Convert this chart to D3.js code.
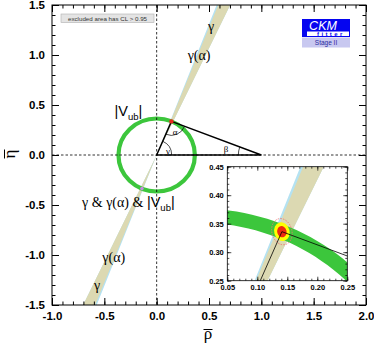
<!DOCTYPE html>
<html>
<head>
<meta charset="utf-8">
<script src="https://cdn.jsdelivr.net/npm/d3@7"></script>
<style>
  body { margin: 0; background: #fff; }
  svg { display: block; }
</style>
</head>
<body>
<svg id="chart" width="374" height="349"></svg>
<script>
// tick labels
var xTicks = [-1.0, -0.5, 0.0, 0.5, 1.0, 1.5, 2.0];
var yTicks = [-1.5, -1.0, -0.5, 0.0, 0.5, 1.0, 1.5];
var insetXTicks = [0.05, 0.10, 0.15, 0.20, 0.25];
var insetYTicks = [0.25, 0.30, 0.35, 0.40, 0.45];

// fit results
var apex = [0.141, 0.336];          // rho-bar, eta-bar
var gammaBand = [64.9, 68.6];       // degrees
var gammaAlphaBand = [64.9, 69.1];  // degrees
var vubBand = [0.352, 0.377];       // radius
var vubRadius = 0.365;
// confidence ellipses (semi axes in rho, eta)
var clRho = [0.0167, 0.0128, 0.0078];
var clEta = [0.0233, 0.0167, 0.0099];
var clFill = ["none", "#ffff00", "#ee2a10"];

var svg = d3.select("#chart");

var x = d3.scaleLinear().domain([-1, 2]).range([52, 366]);
var y = d3.scaleLinear().domain([-1.5, 1.5]).range([305, 5]);

var defs = svg.append("defs");
defs.append("clipPath").attr("id", "mainclip").append("rect")
    .attr("x", 52).attr("y", 5).attr("width", 314).attr("height", 300);

var plot = svg.append("g").attr("clip-path", "url(#mainclip)");

// wedge through origin, both directions
function wedge(sx, sy, a) {
    var r = 6, a1 = a[0] * Math.PI / 180, a2 = a[1] * Math.PI / 180;
    var pts = [[0, 0], [r * Math.cos(a1), r * Math.sin(a1)], [r * Math.cos(a2), r * Math.sin(a2)], [0, 0],
               [-r * Math.cos(a1), -r * Math.sin(a1)], [-r * Math.cos(a2), -r * Math.sin(a2)]];
    return pts.map(function(p) { return [sx(p[0]), sy(p[1])]; });
}

plot.append("polygon").attr("points", wedge(x, y, gammaAlphaBand).join(" ")).attr("fill", "#b4e2f2");
plot.append("polygon").attr("points", wedge(x, y, gammaBand).join(" ")).attr("fill", "#dcd9b2");

// |Vub| circle
plot.append("ellipse")
    .attr("cx", x(0)).attr("cy", y(0))
    .attr("rx", x(vubRadius) - x(0)).attr("ry", y(0) - y(vubRadius))
    .attr("fill", "none").attr("stroke", "#3cc63c").attr("stroke-width", 4.2);

// mirror solution dot
plot.append("circle").attr("cx", x(-apex[0])).attr("cy", y(-apex[1])).attr("r", 1.8).attr("fill", "#c58be0");

// dashed axes
plot.append("line").attr("x1", x(0)).attr("x2", x(0)).attr("y1", y(1.5)).attr("y2", y(-1.5))
    .attr("stroke", "#000").attr("stroke-width", 0.8).attr("stroke-dasharray", "2.5,2");
plot.append("line").attr("x1", x(-1)).attr("x2", x(2)).attr("y1", y(0)).attr("y2", y(0))
    .attr("stroke", "#000").attr("stroke-width", 0.8).attr("stroke-dasharray", "2.5,2");

// unitarity triangle
plot.append("polygon")
    .attr("points", [[x(0), y(0)], [x(apex[0]), y(apex[1])], [x(1), y(0)]].join(" "))
    .attr("fill", "none").attr("stroke", "#000").attr("stroke-width", 1.5);

// angle arcs (screen angles, always the short way)
function arc(cx, cy, r, a0, a1) {
    var d = a1 - a0;
    while (d > Math.PI) d -= 2 * Math.PI;
    while (d < -Math.PI) d += 2 * Math.PI;
    var p = d3.path();
    p.arc(cx, cy, r, a0, a0 + d, d < 0);
    return p.toString();
}
var ax = x(apex[0]), ay = y(apex[1]);
var toOrigin = Math.atan2(y(0) - ay, x(0) - ax);
var toOne = Math.atan2(y(0) - ay, x(1) - ax);
plot.append("path").attr("d", arc(x(0), y(0), 15, 0, Math.atan2(ay - y(0), ax - x(0))))
    .attr("fill", "none").attr("stroke", "#000").attr("stroke-width", 0.7);
plot.append("path").attr("d", arc(ax, ay, 14, toOne, toOrigin))
    .attr("fill", "none").attr("stroke", "#000").attr("stroke-width", 0.7);
plot.append("path").attr("d", arc(x(1), y(0), 23, Math.PI, Math.atan2(ay - y(0), ax - x(1))))
    .attr("fill", "none").attr("stroke", "#000").attr("stroke-width", 0.7);

plot.append("circle").attr("cx", ax).attr("cy", ay).attr("r", 2.2).attr("fill", "#e8281e");

var serif = "'Liberation Serif', 'DejaVu Serif', serif";
var sans = "'Liberation Sans', Arial, sans-serif";

function small(t, px, py) {
    svg.append("text").attr("x", px).attr("y", py).attr("text-anchor", "middle")
        .attr("font-family", serif).attr("font-size", 9).text(t);
}
small("\u03b1", 175, 135);
small("\u03b3", 168, 153.5);
small("\u03b2", 226, 152);

// band labels
function label(t, rho, eta) {
    svg.append("text").attr("x", x(rho)).attr("y", y(eta) + 4.5).attr("text-anchor", "middle")
        .attr("font-family", serif).attr("font-size", 14).text(t);
}
label("\u03b3", 0.52, 1.29);
label("\u03b3(\u03b1)", 0.405, 1.0);
label("\u03b3(\u03b1)", -0.41, -1.02);
label("\u03b3", -0.57, -1.30);

function vub(g) {
    g.append("tspan").text("|V");
    g.append("tspan").attr("font-size", 9.5).attr("dy", 3.5).text("ub");
    g.append("tspan").attr("dy", -3.5).text("|");
}
var v1 = svg.append("text").attr("x", x(-0.27)).attr("y", y(0.44) + 5).attr("text-anchor", "middle")
    .attr("font-family", sans).attr("font-size", 14.5);
vub(v1);

var v2 = svg.append("text").attr("x", x(-0.27)).attr("y", y(-0.47) + 5).attr("text-anchor", "middle")
    .attr("font-size", 14);
v2.append("tspan").attr("font-family", serif).text("\u03b3 & \u03b3(\u03b1) & ");
v2.append("tspan").attr("font-family", sans).attr("font-size", 14.5).text("|V");
v2.append("tspan").attr("font-family", sans).attr("font-size", 9.5).attr("dy", 3.5).text("ub");
v2.append("tspan").attr("font-family", sans).attr("font-size", 14.5).attr("dy", -3.5).text("|");

// axes: major ticks + labels, minor ticks, on all four sides
var fmt = function(d) { return d.toFixed(1); };
var xMinor = d3.range(-10, 21).map(function(i) { return i / 10; });
var yMinor = d3.range(-15, 16).map(function(i) { return i / 10; });

function ticks(sel, axis) {
    sel.call(axis);
    sel.select(".domain").remove();
    sel.selectAll("line").attr("stroke", "#000").attr("stroke-width", 1);
    sel.selectAll("text").attr("font-family", sans).attr("font-weight", "bold").attr("font-size", 11.5).attr("fill", "#000");
}

ticks(svg.append("g").attr("transform", "translate(0,305)"),
    d3.axisBottom(x).tickValues(xTicks).tickSize(-7).tickPadding(7).tickFormat(fmt));
ticks(svg.append("g").attr("transform", "translate(0,305)"),
    d3.axisBottom(x).tickValues(xMinor).tickSize(-3.5).tickFormat(""));
ticks(svg.append("g").attr("transform", "translate(0,5)"),
    d3.axisTop(x).tickValues(xTicks).tickSize(-7).tickFormat(""));
ticks(svg.append("g").attr("transform", "translate(0,5)"),
    d3.axisTop(x).tickValues(xMinor).tickSize(-3.5).tickFormat(""));
ticks(svg.append("g").attr("transform", "translate(52,0)"),
    d3.axisLeft(y).tickValues(yTicks).tickSize(-7).tickPadding(7).tickFormat(fmt));
ticks(svg.append("g").attr("transform", "translate(52,0)"),
    d3.axisLeft(y).tickValues(yMinor).tickSize(-3.5).tickFormat(""));
ticks(svg.append("g").attr("transform", "translate(366,0)"),
    d3.axisRight(y).tickValues(yTicks).tickSize(-7).tickFormat(""));
ticks(svg.append("g").attr("transform", "translate(366,0)"),
    d3.axisRight(y).tickValues(yMinor).tickSize(-3.5).tickFormat(""));

svg.append("rect").attr("x", 52).attr("y", 5).attr("width", 314).attr("height", 300)
    .attr("fill", "none").attr("stroke", "#000").attr("stroke-width", 1);

// axis titles with overline
svg.append("text").attr("x", 208).attr("y", 339).attr("text-anchor", "middle")
    .attr("font-family", serif).attr("font-size", 17).text("\u03c1");
svg.append("line").attr("x1", 203.5).attr("x2", 212.5).attr("y1", 329.5).attr("y2", 329.5)
    .attr("stroke", "#000").attr("stroke-width", 1);
var eta = svg.append("g").attr("transform", "translate(15,154) rotate(-90)");
eta.append("text").attr("x", 0).attr("y", 0).attr("text-anchor", "middle")
    .attr("font-family", serif).attr("font-size", 17).text("\u03b7");
eta.append("line").attr("x1", -4.5).attr("x2", 4.5).attr("y1", -10.5).attr("y2", -10.5)
    .attr("stroke", "#000").attr("stroke-width", 1);

// CL note
svg.append("rect").attr("x", 61).attr("y", 14).attr("width", 93).attr("height", 8.5)
    .attr("fill", "#e4e4e4").attr("stroke", "#b0b0b0").attr("stroke-width", 0.6);
svg.append("text").attr("x", 107.5).attr("y", 20.6).attr("text-anchor", "middle")
    .attr("font-family", sans).attr("font-size", 6.2).attr("fill", "#333").text("excluded area has CL > 0.95");

// CKMfitter logo
var logo = svg.append("g");
logo.append("rect").attr("x", 302).attr("y", 19).attr("width", 48).attr("height", 12).attr("fill", "#0505f0");
logo.append("text").attr("x", 323).attr("y", 29.5).attr("text-anchor", "middle").attr("font-family", sans)
    .attr("font-style", "italic").attr("font-size", 12.5).attr("fill", "#fff").text("CKM");
logo.append("rect").attr("x", 302.5).attr("y", 31).attr("width", 47).attr("height", 5.5)
    .attr("fill", "#fff").attr("stroke", "#0505f0").attr("stroke-width", 1);
logo.append("rect").attr("x", 302).attr("y", 31).attr("width", 5).attr("height", 6).attr("fill", "#0505f0");
logo.append("text").attr("x", 317).attr("y", 36.3).attr("font-family", sans).attr("font-weight", "bold")
    .attr("font-size", 6).attr("letter-spacing", 2.4).attr("fill", "#0505f0").text("fitter");
logo.append("rect").attr("x", 302).attr("y", 37.5).attr("width", 48).attr("height", 10).attr("fill", "#c8c8f0");
logo.append("text").attr("x", 326).attr("y", 45).attr("text-anchor", "middle").attr("font-family", sans)
    .attr("font-size", 6.5).attr("fill", "#2a2aa0").text("Stage II");

// ---- inset ----
var ix = d3.scaleLinear().domain([0.05, 0.25]).range([227.3, 347.3]);
var iy = d3.scaleLinear().domain([0.25, 0.45]).range([280.7, 166.7]);

defs.append("clipPath").attr("id", "insetclip").append("rect")
    .attr("x", 227.3).attr("y", 166.7).attr("width", 120).attr("height", 114);

svg.append("rect").attr("x", 227.3).attr("y", 166.7).attr("width", 120).attr("height", 114).attr("fill", "#fff");
var inset = svg.append("g").attr("clip-path", "url(#insetclip)");

inset.append("polygon").attr("points", wedge(ix, iy, gammaAlphaBand).join(" ")).attr("fill", "#b4e2f2");
inset.append("polygon").attr("points", wedge(ix, iy, gammaBand).join(" ")).attr("fill", "#dcd9b2");

// |Vub| annulus
var angles = d3.range(0, 181, 2).map(function(d) { return d * Math.PI / 180; });
var ring = angles.map(function(a) { return [ix(vubBand[1] * Math.cos(a)), iy(vubBand[1] * Math.sin(a))]; })
    .concat(angles.slice().reverse().map(function(a) { return [ix(vubBand[0] * Math.cos(a)), iy(vubBand[0] * Math.sin(a))]; }));
inset.append("path").attr("d", d3.line()(ring) + "Z").attr("fill", "#3cc63c");

// CL ellipses
clRho.forEach(function(r, i) {
    inset.append("ellipse")
        .attr("cx", ix(apex[0])).attr("cy", iy(apex[1]))
        .attr("rx", ix(apex[0] + r) - ix(apex[0])).attr("ry", iy(apex[1]) - iy(apex[1] + clEta[i]))
        .attr("transform", "rotate(-15," + ix(apex[0]) + "," + iy(apex[1]) + ")")
        .attr("fill", clFill[i])
        .attr("stroke", i == 0 ? "#f07070" : "none").attr("stroke-width", 0.8)
        .attr("stroke-dasharray", i == 0 ? "1.5,1.2" : null);
});

inset.append("polyline")
    .attr("points", [[ix(0), iy(0)], [ix(apex[0]), iy(apex[1])], [ix(1), iy(0)]].join(" "))
    .attr("fill", "none").attr("stroke", "#000").attr("stroke-width", 0.8);

function iticks(sel, axis, labels) {
    sel.call(axis);
    sel.select(".domain").remove();
    sel.selectAll("line").attr("stroke", "#000").attr("stroke-width", 0.7);
    sel.selectAll("text").attr("font-family", sans).attr("font-weight", "bold").attr("font-size", 7.5).attr("fill", "#000");
}
var fmt2 = function(d) { return d.toFixed(2); };
var ixMinor = d3.range(5, 26).map(function(i) { return i / 100; });
var iyMinor = d3.range(25, 46).map(function(i) { return i / 100; });

iticks(svg.append("g").attr("transform", "translate(0,280.7)"),
    d3.axisBottom(ix).tickValues(insetXTicks).tickSize(-4).tickPadding(3.5).tickFormat(fmt2));
iticks(svg.append("g").attr("transform", "translate(0,280.7)"),
    d3.axisBottom(ix).tickValues(ixMinor).tickSize(-2).tickFormat(""));
iticks(svg.append("g").attr("transform", "translate(0,166.7)"),
    d3.axisTop(ix).tickValues(insetXTicks).tickSize(-4).tickFormat(""));
iticks(svg.append("g").attr("transform", "translate(0,166.7)"),
    d3.axisTop(ix).tickValues(ixMinor).tickSize(-2).tickFormat(""));
iticks(svg.append("g").attr("transform", "translate(227.3,0)"),
    d3.axisLeft(iy).tickValues(insetYTicks).tickSize(-4).tickPadding(3.5).tickFormat(fmt2));
iticks(svg.append("g").attr("transform", "translate(227.3,0)"),
    d3.axisLeft(iy).tickValues(iyMinor).tickSize(-2).tickFormat(""));
iticks(svg.append("g").attr("transform", "translate(347.3,0)"),
    d3.axisRight(iy).tickValues(insetYTicks).tickSize(-4).tickFormat(""));
iticks(svg.append("g").attr("transform", "translate(347.3,0)"),
    d3.axisRight(iy).tickValues(iyMinor).tickSize(-2).tickFormat(""));

svg.append("rect").attr("x", 227.3).attr("y", 166.7).attr("width", 120).attr("height", 114)
    .attr("fill", "none").attr("stroke", "#000").attr("stroke-width", 0.8);
</script>
</body>
</html>
